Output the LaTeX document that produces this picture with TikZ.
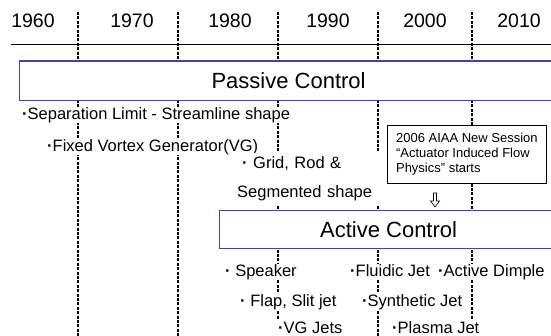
\documentclass[tikz,border=0pt]{standalone}
\usepackage{fontspec}
\setmainfont{Liberation Sans}
\usepackage{xcolor}
\usepackage{tikz}
\usetikzlibrary{positioning}

\definecolor{bandblue}{RGB}{70,70,160}
\newcommand{\dotmark}{{\bfseries ·}}

\tikzset{
  year/.style={font=\fontsize{19.5}{22}\selectfont},
  item/.style={anchor=west, fill=white, inner sep=1pt, text height=12pt, text depth=2pt,
    font=\fontsize{16.5}{19}\selectfont},
  band/.style={draw=bandblue, line width=1.2pt, fill=white, anchor=north west,
    font=\fontsize{22}{24}\selectfont},
  divider/.style={dash pattern=on 3pt off 1.4pt, line width=1.3pt},
}

\begin{document}
\begin{tikzpicture}[x=1pt, y=-1pt]
  \useasboundingbox (0,0) rectangle (551,336);

  % decade dividers and time axis
  \foreach \xd in {78,178,278,378,472}
    \draw[divider] (\xd,12) -- (\xd,336);
  \draw[line width=1.5pt] (10.5,44.6) -- (560,44.6);

  \node[year] (y1960) at (33,20.7) {1960};
  \node[year] (y1970) at (132,20.7) {1970};
  \node[year] (y1980) at (230,20.7) {1980};
  \node[year] (y1990) at (328,20.7) {1990};
  \node[year] (y2000) at (425,20.7) {2000};
  \node[year] (y2010) at (519,20.7) {2010};

  % passive control
  \node[band, minimum width=538pt, minimum height=39.5pt] (passive) at (19,60.5) {Passive Control};
  \node[item] (sep) at (21,115) {\dotmark Separation Limit - Streamline shape};
  \node[item] (fixvg) at (46,147) {\dotmark Fixed Vortex Generator(VG)};
  \node[item, text height=, text depth=, align=left, text width=145pt, minimum height=52pt]
    (grid) at (236,179) {\hspace*{5pt}\dotmark{} Grid, Rod \&\\[10pt]Segmented shape};

  % AIAA session
  \node[draw, fill=white, line width=0.8pt, anchor=north west, align=left,
    minimum width=159pt, minimum height=58pt, font=\fontsize{13}{15}\selectfont]
    (aiaa) at (387,125) {2006 AIAA New Session\\“Actuator Induced Flow\\Physics” starts};
  \draw[fill=white, line width=0.6pt] (433.5,193) -- (436.5,193) -- (436.5,201) -- (439.5,201)
    -- (435,207) -- (430.5,201) -- (433.5,201) -- cycle;

  % active control
  \node[band, minimum width=338pt, minimum height=38pt] (active) at (219,210) {Active Control};
  \node[item] (speaker) at (224,272) {\dotmark{} Speaker};
  \node[item] (fluidic) at (349,272) {\dotmark Fluidic Jet};
  \node[item] (dimple) at (437,272) {\dotmark Active Dimple};
  \node[item] (flap) at (239,302) {\dotmark{} Flap, Slit jet};
  \node[item] (synth) at (361,302) {\dotmark Synthetic Jet};
  \node[item] (vgjets) at (277,328.5) {\dotmark VG Jets};
  \node[item] (plasma) at (391,328.5) {\dotmark Plasma Jet};
\end{tikzpicture}
\end{document}
